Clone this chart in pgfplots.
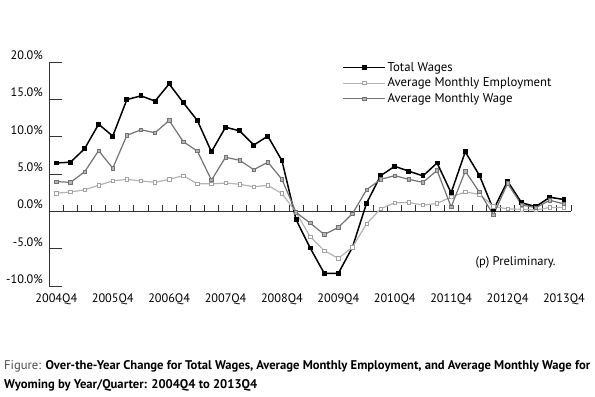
\documentclass[border=0pt]{standalone}
\usepackage{fontspec}
\setmainfont{PT Sans}
\usepackage{pgfplots}
\pgfplotsset{compat=1.18}
\usepackage{graphicx}
\definecolor{empc}{HTML}{B4B4B4}
\definecolor{wagec}{HTML}{737373}
\definecolor{axc}{HTML}{333333}
\begin{document}
\begin{tikzpicture}
\path[use as bounding box] (0,0) rectangle (595bp,397bp);
\begin{axis}[
  at={(49.3bp,111bp)}, anchor=south west,
  scale only axis, width=521.7bp, height=223.7bp,
  xmin=-0.5, xmax=36.5, ymin=-10, ymax=20,
  axis y line*=left, axis x line*=bottom,
  x axis line style={draw=none},
  y axis line style={-, axc, line width=0.9bp},
  xtick={0,4,...,36},
  xticklabels={2004Q4,2005Q4,2006Q4,2007Q4,2008Q4,2009Q4,2010Q4,2011Q4,2012Q4,2013Q4},
  x tick style={draw=none},
  ytick={-10,-5,0,5,10,15,20},
  yticklabels={-10.0\%,-5.0\%,0.0\%,5.0\%,10.0\%,15.0\%,20.0\%},
  y tick style={axc, line width=0.9bp},
  tick align=inside, major tick length=13bp,
  ticklabel style={font=\fontsize{12.3}{14}\selectfont},
  yticklabel style={yshift=7bp, xshift=-3bp},
  xticklabel style={yshift=-4.5bp},
  /pgf/number format/assume math mode=true,
  clip=false,
  legend style={at={(0.562,1.008)}, anchor=north west, draw=none, fill=none,
    font=\fontsize{12.8}{14}\selectfont, row sep=2.2bp, inner sep=0pt,
    nodes={inner sep=1.5bp}},
  legend cell align=left,
  legend image code/.code={\draw[mark repeat=2,mark phase=2,#1] plot coordinates {(0bp,0bp) (21bp,0bp) (42bp,0bp)};},
]
\draw[axc, line width=0.9bp] (axis cs:-0.5,0) -- (axis cs:36.5,0);
\pgfplotsinvokeforeach{0,...,36}{\draw[axc, line width=0.9bp] (axis cs:#1.5,0) -- (axis cs:#1.5,0.8);}
\addplot[black, line width=1.5bp, mark=square*, mark size=1.7bp, mark options={solid, fill=black}] coordinates {
(0,6.5)(1,6.6)(2,8.4)(3,11.7)(4,10.1)(5,15.0)(6,15.5)(7,14.8)(8,17.1)(9,14.6)(10,12.2)(11,8.0)(12,11.3)(13,10.8)(14,8.9)(15,10.1)(16,6.8)(17,-1.1)(18,-4.9)(19,-8.3)(20,-8.3)(21,-4.8)(22,1.1)(23,4.8)(24,6.05)(25,5.4)(26,4.76)(27,6.5)(28,2.5)(29,8.0)(30,4.85)(31,0.25)(32,4.05)(33,1.15)(34,0.65)(35,1.9)(36,1.6)};
\addlegendentry{Total Wages}
\addplot[empc, line width=1.2bp, mark=square*, mark size=1.7bp, mark options={solid, fill=white, draw=empc!90!black, line width=0.7bp}] coordinates {
(0,2.45)(1,2.6)(2,2.9)(3,3.5)(4,4.1)(5,4.3)(6,4.1)(7,3.9)(8,4.3)(9,4.8)(10,3.7)(11,3.7)(12,3.8)(13,3.65)(14,3.3)(15,3.5)(16,2.4)(17,-0.1)(18,-3.4)(19,-5.25)(20,-6.3)(21,-4.8)(22,-1.65)(23,0.36)(24,1.16)(25,1.2)(26,0.85)(27,1.07)(28,1.95)(29,2.6)(30,2.3)(31,0.7)(32,0.33)(33,0.3)(34,0.2)(35,0.53)(36,0.55)};
\addlegendentry{Average Monthly Employment}
\addplot[wagec, line width=1.2bp, mark=square*, mark size=1.7bp, mark options={solid, fill=empc, draw=wagec, line width=0.7bp}] coordinates {
(0,4.0)(1,3.9)(2,5.3)(3,8.15)(4,5.8)(5,10.2)(6,10.95)(7,10.55)(8,12.2)(9,9.35)(10,8.1)(11,4.2)(12,7.26)(13,6.86)(14,5.6)(15,6.6)(16,4.3)(17,-0.13)(18,-1.56)(19,-3.1)(20,-2.14)(21,-0.3)(22,2.9)(23,4.3)(24,4.8)(25,4.3)(26,3.9)(27,5.5)(28,0.6)(29,5.4)(30,2.6)(31,-0.45)(32,3.75)(33,0.88)(34,0.5)(35,1.5)(36,1.0)};
\addlegendentry{Average Monthly Wage}
\node[anchor=west, inner sep=0pt, font=\fontsize{12.6}{14}\selectfont] at (axis cs:29.72,-6.82) {(p) Preliminary.};
\end{axis}
\node[anchor=north west, inner sep=0pt] at (4bp,41bp) {\resizebox{586bp}{!}{\fontsize{11}{16.5}\selectfont\begin{tabular}{@{}l@{}}{\color{black!70}Figure:} \textbf{Over-the-Year Change for Total Wages, Average Monthly Employment, and Average Monthly Wage for}\\ \textbf{Wyoming by Year/Quarter: 2004Q4 to 2013Q4}\end{tabular}}};
\end{tikzpicture}
\end{document}
